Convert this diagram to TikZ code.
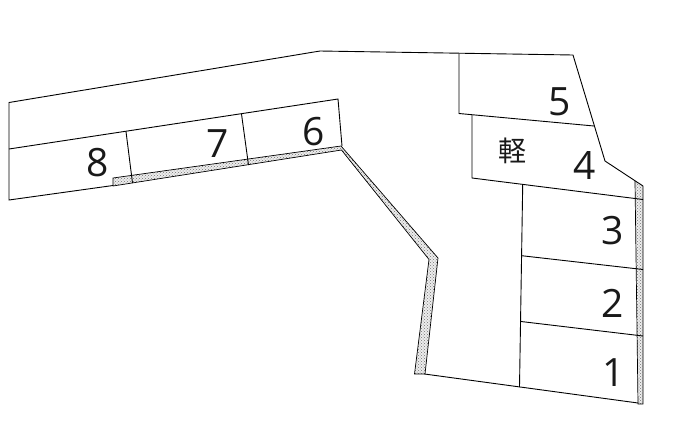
\documentclass[tikz,border=0pt]{standalone}
\usepackage{fontspec}
\setmainfont{Open Sans}
\newfontfamily\cjk{Noto Sans CJK JP}
\usetikzlibrary{patterns}
\tikzset{
  x=1pt,y=-1pt,
  plan/.style={draw=black,line width=0.9pt,line join=miter},
  strip/.style={preaction={fill=black!7},pattern=crosshatch dots,pattern color=black!55},
  stripedge/.style={draw=black,line width=0.7pt,line join=miter},
  stall/.style={font=\fontsize{39}{39}\selectfont,inner sep=0pt,text=black!90},
  kei/.style={font=\cjk\fontsize{28}{28}\selectfont,inner sep=0pt,text=black!90},
}
\begin{document}
\begin{tikzpicture}
\useasboundingbox (0,0) rectangle (689,432);
% strips
\path[strip] (113,178) -- (341,146) -- (438,258) -- (425,374) -- (414.5,374) -- (429,259.5) -- (341.5,150) -- (113,186) -- cycle;
\draw[stripedge] (113,186) -- (113,178) -- (341,146) -- (438,258) -- (425,374) -- (414.5,374) -- (429,259.5) -- (341.5,150) -- (113,186);
\path[strip] (635,181) -- (643,186) -- (643,404) -- (638,404) -- cycle;
\draw[stripedge] (635,181) -- (638,404) -- (643,404) -- (643,186);
% outline
\draw[plan] (113,185.5) -- (9,200) -- (9,102.5) -- (320,51) -- (573,55) -- (605,161) -- (643,186);
\draw[plan] (424.5,374) -- (638,403);
% west row
\draw[plan] (9,149) -- (338,99) -- (342,146);
\draw[plan] (126,131.5) -- (132.5,183);
\draw[plan] (241.5,114) -- (248.5,165);
% east lots
\draw[plan] (459,53.5) -- (459,113.5) -- (594,126);
\draw[plan] (472,115) -- (472,178) -- (643,199.5);
\draw[plan] (522.7,185) -- (519.5,387);
\draw[plan] (521.7,255.7) -- (643,269.5);
\draw[plan] (521,321.5) -- (643,336);
% labels
\node[stall] (n8) at (97.5,163) {8};
\node[stall] (n7) at (217.5,143.5) {7};
\node[stall] (n6) at (314,132) {6};
\node[stall] (n5) at (559.5,102) {5};
\node[kei] (k) at (512.5,151) {軽};
\node[stall] (n4) at (585,165) {4};
\node[stall] (n3) at (612.5,231) {3};
\node[stall] (n2) at (612.5,303) {2};
\node[stall] (n1) at (613.5,373) {1};
\end{tikzpicture}
\end{document}
